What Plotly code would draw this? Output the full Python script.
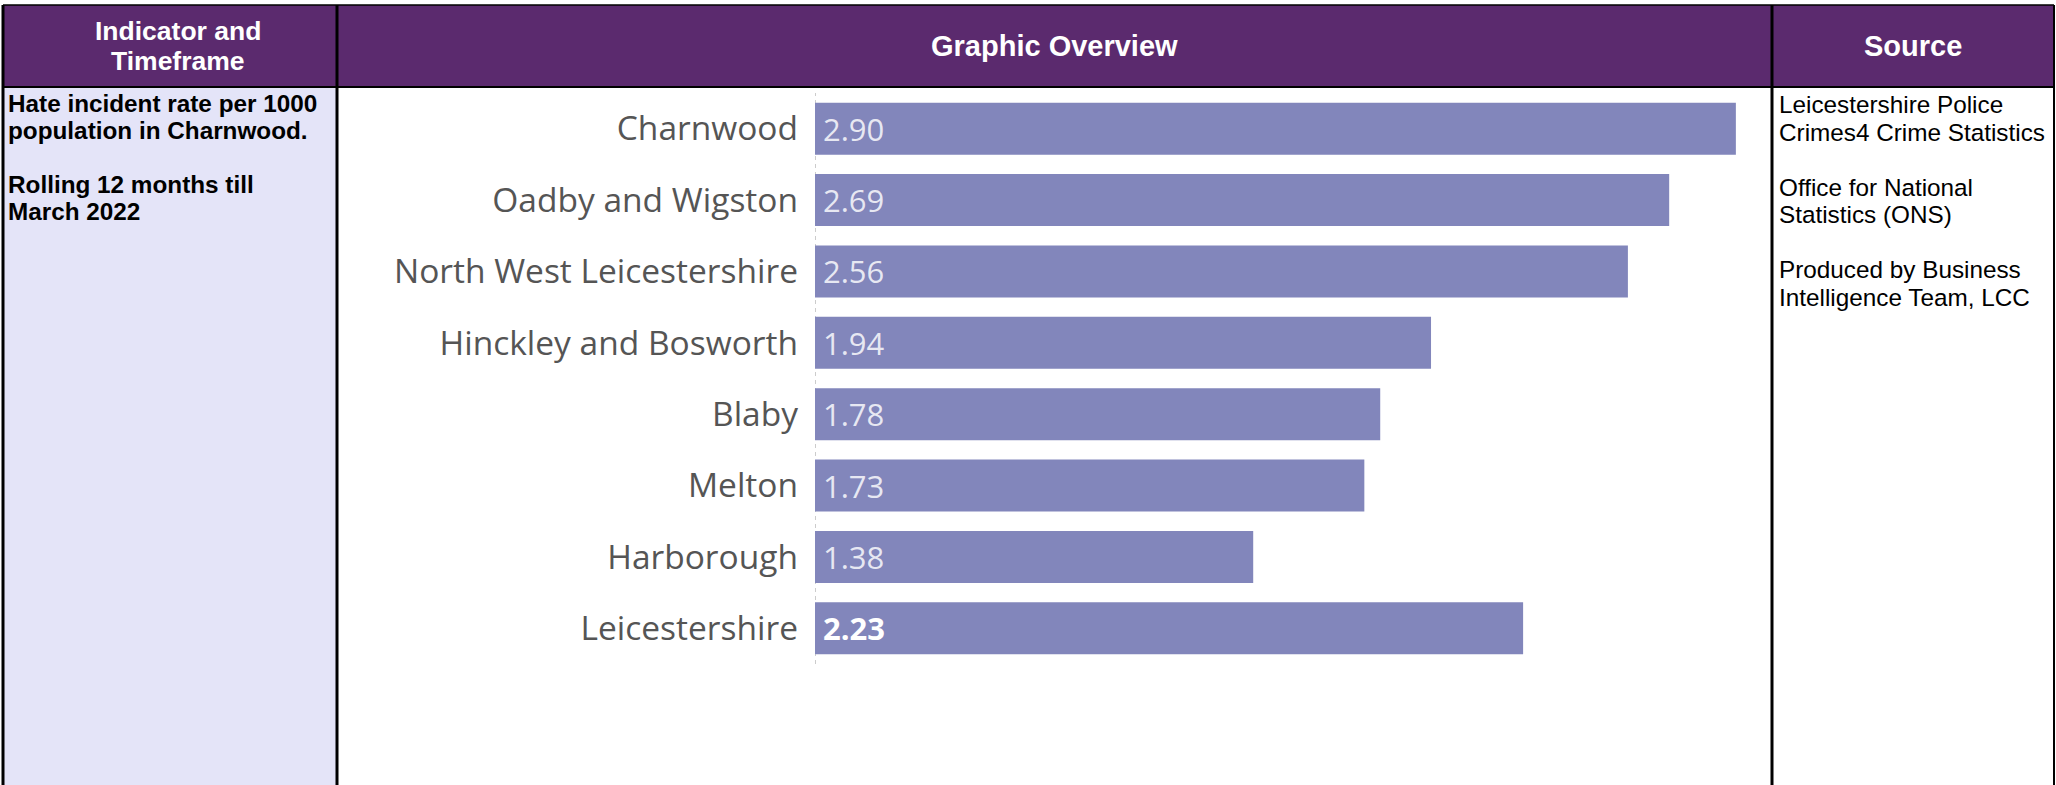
import plotly.graph_objects as go

# ---- data ----
categories = ["Charnwood", "Oadby and Wigston", "North West Leicestershire",
              "Hinckley and Bosworth", "Blaby", "Melton", "Harborough", "Leicestershire"]
values = [2.90, 2.69, 2.56, 1.94, 1.78, 1.73, 1.38, 2.23]
bold_labels = ["Leicestershire"]

header_titles = [["Indicator and", "Timeframe"], ["Graphic Overview"], ["Source"]]
indicator_lines = ["Hate incident rate per 1000", "population in Charnwood.", "",
                   "Rolling 12 months till", "March 2022"]
source_lines = ["Leicestershire Police", "Crimes4 Crime Statistics", "",
                "Office for National", "Statistics (ONS)", "",
                "Produced by Business", "Intelligence Team, LCC"]

# ---- layout constants (pixels) ----
W, H = 2056, 785
PURPLE = "#5B2A6E"
LAVENDER = "#E4E4F8"
BAR = "#8286BB"
HDR_BOTTOM = 87


def px(x):
    return x / W


def py(y):
    return 1 - y / H


fig = go.Figure()
fig.add_trace(go.Bar(
    x=values, y=categories, orientation="h",
    marker=dict(color=BAR, line=dict(width=0)),
    hoverinfo="skip", showlegend=False,
))

shapes = []
shapes.append(dict(type="rect", xref="paper", yref="paper", layer="below",
                   x0=px(3), x1=px(2054), y0=py(HDR_BOTTOM), y1=py(5),
                   fillcolor=PURPLE, line=dict(width=0)))
shapes.append(dict(type="rect", xref="paper", yref="paper", layer="below",
                   x0=px(3), x1=px(337), y0=py(H), y1=py(HDR_BOTTOM),
                   fillcolor=LAVENDER, line=dict(width=0)))
for (x0, y0, x1, y1, w) in [
    (3, 5, 2054, 5, 1.5),
    (3, HDR_BOTTOM, 2054, HDR_BOTTOM, 2),
    (3, 5, 3, H, 3),
    (337, 5, 337, H, 3),
    (1772, 5, 1772, H, 3),
    (2054, 5, 2054, H, 2),
]:
    shapes.append(dict(type="line", xref="paper", yref="paper", layer="above",
                       x0=px(x0), x1=px(x1), y0=py(y0), y1=py(y1),
                       line=dict(color="black", width=w)))
shapes.append(dict(type="line", xref="x", yref="y domain", layer="below",
                   x0=0, x1=0, y0=0, y1=1,
                   line=dict(color="#9a9a9a", width=1, dash="4px,4px")))

annotations = []
hdr_x = [178, 1054, 1913]
hdr_sizes = [26.5, 29, 29]
for cx, lines, sz in zip(hdr_x, header_titles, hdr_sizes):
    n = len(lines)
    for i, t in enumerate(lines):
        cy = 46 + (i - (n - 1) / 2) * 30
        annotations.append(dict(xref="paper", yref="paper", x=px(cx), y=py(cy),
                                xanchor="center", yanchor="middle", showarrow=False,
                                text=f"<b>{t}</b>",
                                font=dict(family="Arial, Liberation Sans", size=sz, color="white")))
y = 104
for t in indicator_lines:
    if t:
        annotations.append(dict(xref="paper", yref="paper", x=px(6), y=py(y),
                                xanchor="left", yanchor="middle", showarrow=False,
                                text=f"<b>{t}</b>",
                                font=dict(family="Arial, Liberation Sans", size=24.3, color="black")))
    y += 26.8
y = 105
for t in source_lines:
    if t:
        annotations.append(dict(xref="paper", yref="paper", x=px(1777), y=py(y),
                                xanchor="left", yanchor="middle", showarrow=False,
                                text=t,
                                font=dict(family="Arial, Liberation Sans", size=24.3, color="black")))
    y += 27.5
for c, v in zip(categories, values):
    txt = f"{v:.2f}"
    if c in bold_labels:
        txt = f"<b>{txt}</b>"
    annotations.append(dict(xref="x", yref="y", x=0, y=c, xanchor="left", yanchor="middle",
                            xshift=6, showarrow=False, text=txt,
                            font=dict(family="Open Sans", size=31,
                                      color="white" if c in bold_labels else "rgba(255,255,255,0.82)")))

fig.update_layout(
    width=W, height=H,
    margin=dict(l=0, r=0, t=0, b=0),
    paper_bgcolor="white", plot_bgcolor="rgba(0,0,0,0)",
    bargap=0.27,
    shapes=shapes, annotations=annotations,
    xaxis=dict(domain=[px(815), px(1760)], range=[0, 2.976], visible=False,
               showgrid=False, zeroline=False, fixedrange=True),
    yaxis=dict(domain=[py(664), py(93)], categoryorder="array", categoryarray=categories,
               range=[len(categories) - 0.5, -0.5], showgrid=False, zeroline=False,
               showline=False, ticks="", ticklabelstandoff=16,
               tickfont=dict(family="Open Sans", size=33.5, color="#555555"), fixedrange=True),
)

fig.write_html("out.html", config={"displayModeBar": False})
